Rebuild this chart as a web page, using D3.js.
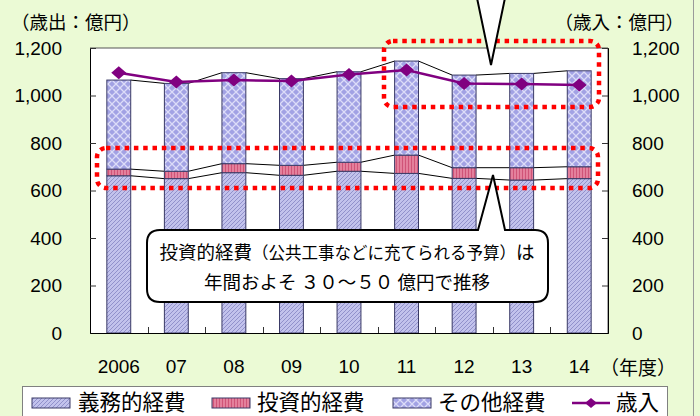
<!DOCTYPE html>
<html lang="ja">
<head>
<meta charset="UTF-8">
<title>歳出・歳入の推移</title>
<script src="https://d3js.org/d3.v7.min.js"></script>
<style>
  body { margin: 0; background: #ebfad5; }
  svg { display: block; }
  text { font-family: "Liberation Sans", Arial, "Noto Sans CJK JP", sans-serif; fill: #000; }
  .jp { font-family: "Noto Sans CJK JP", sans-serif; }
</style>
</head>
<body>
<svg id="chart" width="700" height="416"></svg>
<script>
// ---- data (億円) ----
const years     = ["2006", "07", "08", "09", "10", "11", "12", "13", "14"];
const mandatory = [662, 650, 675, 664, 681, 672, 651, 644, 650];   // 義務的経費
const invest    = [28, 31, 38, 42, 38, 77, 45, 52, 50];            // 投資的経費
const other     = [375, 370, 383, 365, 381, 396, 390, 397, 404];   // その他経費
const revenue   = [1096, 1057, 1065, 1061, 1088, 1107, 1051, 1048, 1044]; // 歳入
const yTicks    = [0, 200, 400, 600, 800, 1000, 1200];
const legendNames = ["義務的経費", "投資的経費", "その他経費", "歳入"];

const svg = d3.select("#chart");
const W = 700, H = 416;

// background
svg.append("rect").attr("width", W).attr("height", H).attr("fill", "#ebfad5");
svg.append("line").attr("x1", 693.5).attr("x2", 693.5).attr("y1", 0).attr("y2", H)
    .attr("stroke", "#9a9a9a").attr("stroke-width", 1);

// patterns
const defs = svg.append("defs");
const pMand = defs.append("pattern").attr("id", "pMand").attr("patternUnits", "userSpaceOnUse")
    .attr("width", 4).attr("height", 4);
pMand.append("rect").attr("width", 4).attr("height", 4).attr("fill", "#c2c2ec");
pMand.append("path").attr("d", "M-1,1 l2,-2 M0,4 l4,-4 M3,5 l2,-2")
    .attr("stroke", "#9191cb").attr("stroke-width", 1);

const pInv = defs.append("pattern").attr("id", "pInv").attr("patternUnits", "userSpaceOnUse")
    .attr("width", 3).attr("height", 3);
pInv.append("rect").attr("width", 3).attr("height", 3).attr("fill", "#e4809c");
pInv.append("rect").attr("width", 1).attr("height", 3).attr("fill", "#d05478");

const pOther = defs.append("pattern").attr("id", "pOther").attr("patternUnits", "userSpaceOnUse")
    .attr("width", 8).attr("height", 8);
pOther.append("rect").attr("width", 8).attr("height", 8).attr("fill", "#a2a2e4");
pOther.append("path").attr("d", "M0,0 L8,8 M8,0 L0,8")
    .attr("stroke", "#dcdcf8").attr("stroke-width", 1.3);

// plot area
const plot = { left: 90, right: 608, top: 48, bottom: 333 };

const x = d3.scaleBand().domain(years)
    .range([plot.left, plot.right])
    .paddingInner(0.585).paddingOuter(0.2925);
const y = d3.scaleLinear().domain([0, 1200]).range([plot.bottom, plot.top]);

svg.append("rect").attr("x", plot.left).attr("y", plot.top)
    .attr("width", plot.right - plot.left).attr("height", plot.bottom - plot.top)
    .attr("fill", "#fff");
svg.append("path")
    .attr("d", `M${plot.left},${plot.top}H${plot.right}V${plot.bottom}`)
    .attr("fill", "none").attr("stroke", "#555").attr("stroke-width", 1);

// stacked data
const stackData = years.map((yr, i) => ({ year: yr, mand: mandatory[i], inv: invest[i], other: other[i] }));
const series = d3.stack().keys(["mand", "inv", "other"])(stackData);
const fills = { mand: "url(#pMand)", inv: "url(#pInv)", other: "url(#pOther)" };

// series lines between bars
series.forEach(s => {
    for (let i = 0; i < s.length - 1; i++) {
        svg.append("line")
            .attr("x1", x(years[i]) + x.bandwidth()).attr("y1", y(s[i][1]))
            .attr("x2", x(years[i + 1])).attr("y2", y(s[i + 1][1]))
            .attr("stroke", "#000").attr("stroke-width", 1);
    }
});

svg.append("g").selectAll("g").data(series).join("g")
    .attr("fill", d => fills[d.key])
    .selectAll("rect").data(d => d).join("rect")
    .attr("x", d => x(d.data.year))
    .attr("y", d => y(d[1]))
    .attr("width", x.bandwidth())
    .attr("height", d => y(d[0]) - y(d[1]))
    .attr("stroke", "#3a3a66").attr("stroke-width", 1);

// axes
const axL = svg.append("g").attr("transform", `translate(${plot.left},0)`)
    .call(d3.axisLeft(y).tickValues(yTicks).tickSize(-6).tickPadding(28).tickFormat(d3.format(",")));
const axR = svg.append("g").attr("transform", `translate(${plot.right},0)`)
    .call(d3.axisRight(y).tickValues(yTicks).tickSize(-6).tickPadding(24).tickFormat(d3.format(",")));
[axL, axR].forEach(a => {
    a.select(".domain").attr("stroke", "#000");
    a.selectAll(".tick line").attr("stroke", "#333");
    a.selectAll("text").attr("font-size", 19)
        .style("font-family", '"Liberation Sans", Arial, sans-serif');
});

const axB = svg.append("g").attr("transform", `translate(0,${plot.bottom})`)
    .call(d3.axisBottom(x).tickSize(0).tickPadding(27));
axB.select(".domain").attr("stroke", "#000");
axB.selectAll("text").attr("font-size", 19)
    .style("font-family", '"Liberation Sans", Arial, sans-serif');
// category-boundary ticks (inside)
const step = x.step();
for (let i = 1; i < years.length; i++) {
    const bx = Math.round(plot.left + i * step) + 0.5;
    svg.append("line").attr("x1", bx).attr("x2", bx)
        .attr("y1", plot.bottom).attr("y2", plot.bottom - 6)
        .attr("stroke", "#333");
}

// revenue line
const line = d3.line().x((d, i) => x(years[i]) + x.bandwidth() / 2).y(d => y(d));
svg.append("path").datum(revenue).attr("d", line)
    .attr("fill", "none").attr("stroke", "#800080").attr("stroke-width", 2.5);
svg.append("g").selectAll("path").data(revenue).join("path")
    .attr("transform", (d, i) => `translate(${x(years[i]) + x.bandwidth() / 2},${y(d)})`)
    .attr("d", "M0,-6.5 L7.5,0 L0,6.5 L-7.5,0Z")
    .attr("fill", "#800080");

// axis titles
svg.append("text").attr("class", "jp").attr("x", 11).attr("y", 29).attr("font-size", 18.5)
    .text("（歳出：億円）");
svg.append("text").attr("class", "jp").attr("x", 684).attr("y", 29).attr("font-size", 18.5)
    .attr("text-anchor", "end").text("（歳入：億円）");
svg.append("text").attr("class", "jp").attr("x", 676).attr("y", 375).attr("font-size", 19)
    .attr("text-anchor", "end").text("（年度）");

// red dotted highlight boxes
function dotBox(x0, y0, x1, y1) {
    svg.append("rect").attr("x", x0).attr("y", y0)
        .attr("width", x1 - x0).attr("height", y1 - y0)
        .attr("rx", 9).attr("ry", 9)
        .attr("fill", "none").attr("stroke", "#ff0000")
        .attr("stroke-width", 4.5).attr("stroke-dasharray", "4.5 4.8");
}
dotBox(384, 41, 599, 107);
dotBox(97, 148, 598, 188);

// callout (lower)
const cb = { x0: 147, y0: 230, x1: 548, y1: 302, r: 13, pl: 478, pr: 505, tipX: 493, tipY: 175 };
svg.append("path")
    .attr("d", `M${cb.x0 + cb.r},${cb.y0} H${cb.pl} L${cb.tipX},${cb.tipY} L${cb.pr},${cb.y0} H${cb.x1 - cb.r}
        Q${cb.x1},${cb.y0} ${cb.x1},${cb.y0 + cb.r} V${cb.y1 - cb.r} Q${cb.x1},${cb.y1} ${cb.x1 - cb.r},${cb.y1}
        H${cb.x0 + cb.r} Q${cb.x0},${cb.y1} ${cb.x0},${cb.y1 - cb.r} V${cb.y0 + cb.r} Q${cb.x0},${cb.y0} ${cb.x0 + cb.r},${cb.y0}Z`)
    .attr("fill", "#fff").attr("stroke", "#000").attr("stroke-width", 2);

const t1 = svg.append("text").attr("class", "jp").attr("x", 347).attr("y", 259)
    .attr("text-anchor", "middle").attr("font-size", 18.5);
t1.append("tspan").text("投資的経費");
t1.append("tspan").attr("font-size", 16.5).text("（公共工事などに充てられる予算）");
t1.append("tspan").text("は");
svg.append("text").attr("class", "jp").attr("x", 347).attr("y", 289)
    .attr("text-anchor", "middle").attr("font-size", 18.5)
    .text("年間およそ ３０～５０ 億円で推移");

// callout pointer (upper, from outside the frame)
svg.append("path").attr("d", "M477,-2 L491,65 L505,-2")
    .attr("fill", "#fff").attr("stroke", "#000").attr("stroke-width", 2);

// legend
const lg = svg.append("g");
lg.append("rect").attr("x", 22.5).attr("y", 386.5).attr("width", 645).attr("height", 40)
    .attr("fill", "#fff").attr("stroke", "#808080");
const lgItems = [
    { name: legendNames[0], sx: 32, tx: 78, fill: "url(#pMand)" },
    { name: legendNames[1], sx: 212, tx: 257, fill: "url(#pInv)" },
    { name: legendNames[2], sx: 393, tx: 438, fill: "url(#pOther)" },
    { name: legendNames[3], sx: 572, tx: 616, fill: null }
];
lgItems.forEach(it => {
    if (it.fill) {
        lg.append("rect").attr("x", it.sx).attr("y", 398).attr("width", 38).attr("height", 10)
            .attr("fill", it.fill).attr("stroke", "#3a3a66");
    } else {
        lg.append("line").attr("x1", it.sx).attr("x2", it.sx + 38).attr("y1", 403).attr("y2", 403)
            .attr("stroke", "#800080").attr("stroke-width", 2.5);
        lg.append("path").attr("transform", `translate(${it.sx + 19},403)`)
            .attr("d", "M0,-5 L6,0 L0,5 L-6,0Z").attr("fill", "#800080");
    }
    lg.append("text").attr("class", "jp").attr("x", it.tx).attr("y", 410)
        .attr("font-size", 21.5).text(it.name);
});
</script>
</body>
</html>
